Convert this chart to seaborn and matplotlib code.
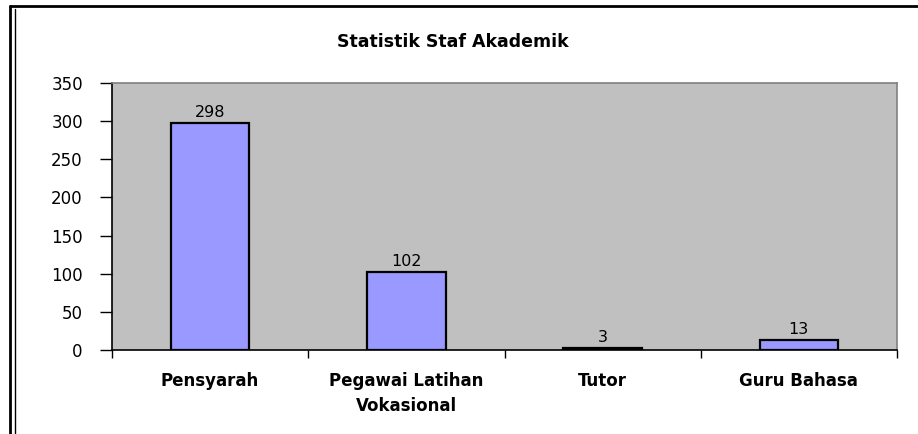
import matplotlib
matplotlib.use("Agg")
import matplotlib.pyplot as plt
from matplotlib.lines import Line2D
from matplotlib.ticker import FixedLocator, NullFormatter
import seaborn as sns
import pandas as pd

categories = ["Pensyarah", "Pegawai Latihan\nVokasional", "Tutor", "Guru Bahasa"]
values = [298, 102, 3, 13]
y_ticks = [0, 50, 100, 150, 200, 250, 300, 350]
title = "Statistik Staf Akademik"

sns.set_style("white")
plt.rcParams["font.family"] = ["DejaVu Sans"]
plt.rcParams["text.color"] = "black"
plt.rcParams["xtick.color"] = "black"
plt.rcParams["ytick.color"] = "black"

W, H = 918, 434
fig = plt.figure(figsize=(W / 100, H / 100), dpi=100)
ax = fig.add_axes([112 / W, 1 - 350 / H, (897 - 112) / W, (350 - 83) / H])

df = pd.DataFrame({"kategori": categories, "jumlah": values})
sns.barplot(data=df, x="kategori", y="jumlah", color="#9999FF", width=0.4,
            saturation=1, edgecolor="black", linewidth=1.6, ax=ax)

ax.set_facecolor("#C0C0C0")
ax.set_xlim(-0.5, len(categories) - 0.5)
ax.set_ylim(0, 350)
ax.set_yticks(y_ticks)
ax.set_xlabel("")
ax.set_ylabel("")

for i, v in enumerate(values):
    ax.text(i, v + 4, str(v), ha="center", va="bottom", fontsize=11.5)

# category boundary ticks on x, labels at centres
ax.xaxis.set_minor_locator(FixedLocator([i - 0.5 for i in range(len(categories) + 1)]))
ax.xaxis.set_minor_formatter(NullFormatter())
ax.tick_params(axis="x", which="major", bottom=False, length=0, pad=16, labelsize=12)
ax.tick_params(axis="x", which="minor", bottom=True, length=6, width=1, color="black", direction="out")
ax.tick_params(axis="y", left=True, length=9, width=1, color="black", direction="out",
               pad=12, labelsize=12)
for lab in ax.get_xticklabels():
    lab.set_fontweight("bold")
    lab.set_linespacing(1.45)

ax.spines["left"].set_color("black")
ax.spines["bottom"].set_color("black")
ax.spines["top"].set_color("#808080")
ax.spines["right"].set_color("#808080")
for s in ax.spines.values():
    s.set_linewidth(1.2)
    s.set_visible(True)

fig.text(453 / W, 1 - 42 / H, title, ha="center", va="center", fontsize=12.5, fontweight="bold")

# outer frame: top line and double left line
fig.add_artist(Line2D([10 / W, 1], [1 - 6 / H, 1 - 6 / H], transform=fig.transFigure, color="black", lw=2))
fig.add_artist(Line2D([10 / W, 10 / W], [0, 1 - 6 / H], transform=fig.transFigure, color="black", lw=2))
fig.add_artist(Line2D([14.5 / W, 14.5 / W], [0, 1 - 9 / H], transform=fig.transFigure, color="black", lw=1))

fig.savefig("out.png", dpi=100)
